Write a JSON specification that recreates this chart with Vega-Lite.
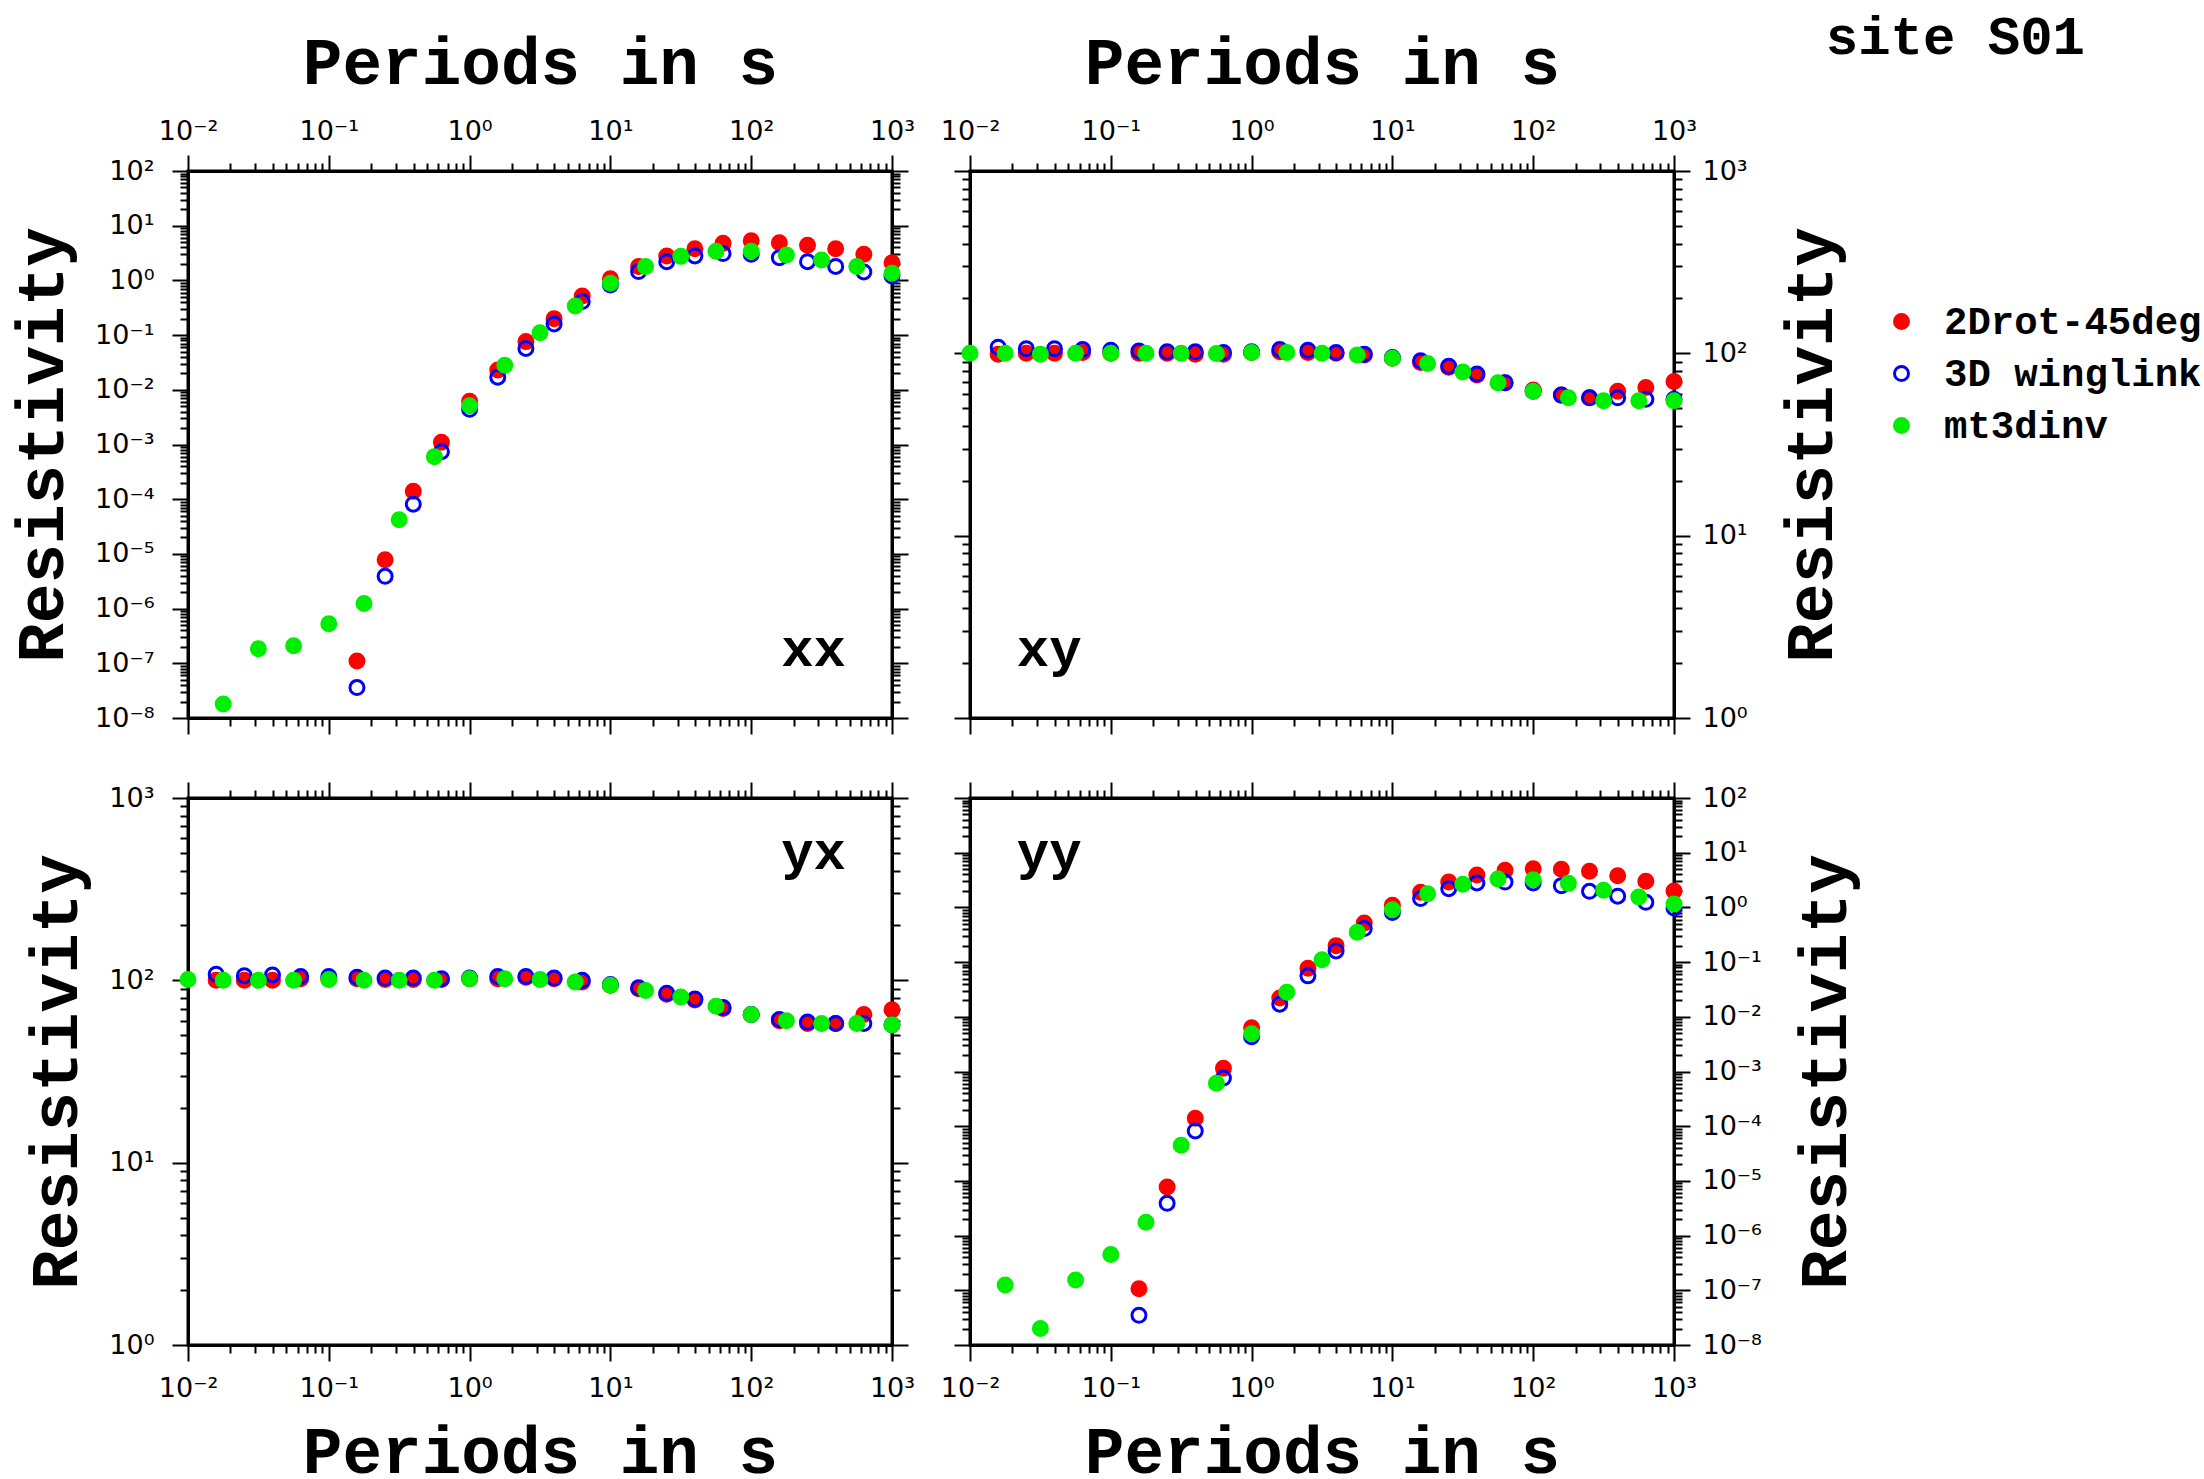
{
  "$schema": "https://vega.github.io/schema/vega-lite/v6.json",
  "padding": {"left": 8, "top": 9, "right": 0, "bottom": 0},
  "background": "white",
  "datasets": {
    "rho": [
      {"panel":"xx","model":"2Drot-45deg","period":0.1585,"rho":1.1e-7},
      {"panel":"xx","model":"2Drot-45deg","period":0.2512,"rho":7.8e-6},
      {"panel":"xx","model":"2Drot-45deg","period":0.3981,"rho":1.4e-4},
      {"panel":"xx","model":"2Drot-45deg","period":0.631,"rho":1.1e-3},
      {"panel":"xx","model":"2Drot-45deg","period":1,"rho":6.2e-3},
      {"panel":"xx","model":"2Drot-45deg","period":1.585,"rho":0.023},
      {"panel":"xx","model":"2Drot-45deg","period":2.512,"rho":0.076},
      {"panel":"xx","model":"2Drot-45deg","period":3.981,"rho":0.2},
      {"panel":"xx","model":"2Drot-45deg","period":6.31,"rho":0.52},
      {"panel":"xx","model":"2Drot-45deg","period":10,"rho":1.07},
      {"panel":"xx","model":"2Drot-45deg","period":15.85,"rho":1.8},
      {"panel":"xx","model":"2Drot-45deg","period":25.12,"rho":2.8},
      {"panel":"xx","model":"2Drot-45deg","period":39.81,"rho":3.8},
      {"panel":"xx","model":"2Drot-45deg","period":63.1,"rho":4.8},
      {"panel":"xx","model":"2Drot-45deg","period":100,"rho":5.3},
      {"panel":"xx","model":"2Drot-45deg","period":158.5,"rho":4.9},
      {"panel":"xx","model":"2Drot-45deg","period":251.2,"rho":4.4},
      {"panel":"xx","model":"2Drot-45deg","period":398.1,"rho":3.8},
      {"panel":"xx","model":"2Drot-45deg","period":631,"rho":3.0},
      {"panel":"xx","model":"2Drot-45deg","period":1000,"rho":2.1},
      {"panel":"xx","model":"3D winglink","period":0.1585,"rho":3.6e-8},
      {"panel":"xx","model":"3D winglink","period":0.2512,"rho":3.9e-6},
      {"panel":"xx","model":"3D winglink","period":0.3981,"rho":8.1e-5},
      {"panel":"xx","model":"3D winglink","period":0.631,"rho":7.4e-4},
      {"panel":"xx","model":"3D winglink","period":1,"rho":4.4e-3},
      {"panel":"xx","model":"3D winglink","period":1.585,"rho":0.017},
      {"panel":"xx","model":"3D winglink","period":2.512,"rho":0.057},
      {"panel":"xx","model":"3D winglink","period":3.981,"rho":0.16},
      {"panel":"xx","model":"3D winglink","period":6.31,"rho":0.41},
      {"panel":"xx","model":"3D winglink","period":10,"rho":0.82},
      {"panel":"xx","model":"3D winglink","period":15.85,"rho":1.45},
      {"panel":"xx","model":"3D winglink","period":25.12,"rho":2.2},
      {"panel":"xx","model":"3D winglink","period":39.81,"rho":2.8},
      {"panel":"xx","model":"3D winglink","period":63.1,"rho":3.1},
      {"panel":"xx","model":"3D winglink","period":100,"rho":3.0},
      {"panel":"xx","model":"3D winglink","period":158.5,"rho":2.6},
      {"panel":"xx","model":"3D winglink","period":251.2,"rho":2.2},
      {"panel":"xx","model":"3D winglink","period":398.1,"rho":1.8},
      {"panel":"xx","model":"3D winglink","period":631,"rho":1.43},
      {"panel":"xx","model":"3D winglink","period":1000,"rho":1.2},
      {"panel":"xx","model":"mt3dinv","period":0.01778,"rho":1.8e-8},
      {"panel":"xx","model":"mt3dinv","period":0.03162,"rho":1.85e-7},
      {"panel":"xx","model":"mt3dinv","period":0.05623,"rho":2.1e-7},
      {"panel":"xx","model":"mt3dinv","period":0.1,"rho":5.3e-7},
      {"panel":"xx","model":"mt3dinv","period":0.1778,"rho":1.24e-6},
      {"panel":"xx","model":"mt3dinv","period":0.3162,"rho":4.2e-5},
      {"panel":"xx","model":"mt3dinv","period":0.5623,"rho":6.0e-4},
      {"panel":"xx","model":"mt3dinv","period":1,"rho":5.1e-3},
      {"panel":"xx","model":"mt3dinv","period":1.778,"rho":0.028},
      {"panel":"xx","model":"mt3dinv","period":3.162,"rho":0.11},
      {"panel":"xx","model":"mt3dinv","period":5.623,"rho":0.34},
      {"panel":"xx","model":"mt3dinv","period":10,"rho":0.89},
      {"panel":"xx","model":"mt3dinv","period":17.78,"rho":1.8},
      {"panel":"xx","model":"mt3dinv","period":31.62,"rho":2.75},
      {"panel":"xx","model":"mt3dinv","period":56.23,"rho":3.4},
      {"panel":"xx","model":"mt3dinv","period":100,"rho":3.4},
      {"panel":"xx","model":"mt3dinv","period":177.8,"rho":2.9},
      {"panel":"xx","model":"mt3dinv","period":316.2,"rho":2.35},
      {"panel":"xx","model":"mt3dinv","period":562.3,"rho":1.8},
      {"panel":"xx","model":"mt3dinv","period":1000,"rho":1.35},

      {"panel":"xy","model":"2Drot-45deg","period":0.01585,"rho":99},
      {"panel":"xy","model":"2Drot-45deg","period":0.02512,"rho":100},
      {"panel":"xy","model":"2Drot-45deg","period":0.03981,"rho":100},
      {"panel":"xy","model":"2Drot-45deg","period":0.0631,"rho":101},
      {"panel":"xy","model":"2Drot-45deg","period":0.1,"rho":100},
      {"panel":"xy","model":"2Drot-45deg","period":0.1585,"rho":100},
      {"panel":"xy","model":"2Drot-45deg","period":0.2512,"rho":100},
      {"panel":"xy","model":"2Drot-45deg","period":0.3981,"rho":99},
      {"panel":"xy","model":"2Drot-45deg","period":0.631,"rho":99},
      {"panel":"xy","model":"2Drot-45deg","period":1,"rho":101},
      {"panel":"xy","model":"2Drot-45deg","period":1.585,"rho":102},
      {"panel":"xy","model":"2Drot-45deg","period":2.512,"rho":101},
      {"panel":"xy","model":"2Drot-45deg","period":3.981,"rho":100},
      {"panel":"xy","model":"2Drot-45deg","period":6.31,"rho":98},
      {"panel":"xy","model":"2Drot-45deg","period":10,"rho":94},
      {"panel":"xy","model":"2Drot-45deg","period":15.85,"rho":89},
      {"panel":"xy","model":"2Drot-45deg","period":25.12,"rho":84},
      {"panel":"xy","model":"2Drot-45deg","period":39.81,"rho":76},
      {"panel":"xy","model":"2Drot-45deg","period":63.1,"rho":69},
      {"panel":"xy","model":"2Drot-45deg","period":100,"rho":63},
      {"panel":"xy","model":"2Drot-45deg","period":158.5,"rho":59},
      {"panel":"xy","model":"2Drot-45deg","period":251.2,"rho":57},
      {"panel":"xy","model":"2Drot-45deg","period":398.1,"rho":62},
      {"panel":"xy","model":"2Drot-45deg","period":631,"rho":65},
      {"panel":"xy","model":"2Drot-45deg","period":1000,"rho":70},
      {"panel":"xy","model":"3D winglink","period":0.01585,"rho":108},
      {"panel":"xy","model":"3D winglink","period":0.02512,"rho":106},
      {"panel":"xy","model":"3D winglink","period":0.03981,"rho":106},
      {"panel":"xy","model":"3D winglink","period":0.0631,"rho":105},
      {"panel":"xy","model":"3D winglink","period":0.1,"rho":104},
      {"panel":"xy","model":"3D winglink","period":0.1585,"rho":103},
      {"panel":"xy","model":"3D winglink","period":0.2512,"rho":102},
      {"panel":"xy","model":"3D winglink","period":0.3981,"rho":102},
      {"panel":"xy","model":"3D winglink","period":0.631,"rho":101},
      {"panel":"xy","model":"3D winglink","period":1,"rho":102},
      {"panel":"xy","model":"3D winglink","period":1.585,"rho":105},
      {"panel":"xy","model":"3D winglink","period":2.512,"rho":104},
      {"panel":"xy","model":"3D winglink","period":3.981,"rho":101},
      {"panel":"xy","model":"3D winglink","period":6.31,"rho":99},
      {"panel":"xy","model":"3D winglink","period":10,"rho":95},
      {"panel":"xy","model":"3D winglink","period":15.85,"rho":91},
      {"panel":"xy","model":"3D winglink","period":25.12,"rho":85},
      {"panel":"xy","model":"3D winglink","period":39.81,"rho":77},
      {"panel":"xy","model":"3D winglink","period":63.1,"rho":69},
      {"panel":"xy","model":"3D winglink","period":100,"rho":62},
      {"panel":"xy","model":"3D winglink","period":158.5,"rho":59},
      {"panel":"xy","model":"3D winglink","period":251.2,"rho":57},
      {"panel":"xy","model":"3D winglink","period":398.1,"rho":57},
      {"panel":"xy","model":"3D winglink","period":631,"rho":56},
      {"panel":"xy","model":"3D winglink","period":1000,"rho":56},
      {"panel":"xy","model":"mt3dinv","period":0.01,"rho":100},
      {"panel":"xy","model":"mt3dinv","period":0.01778,"rho":100},
      {"panel":"xy","model":"mt3dinv","period":0.03162,"rho":99},
      {"panel":"xy","model":"mt3dinv","period":0.05623,"rho":100},
      {"panel":"xy","model":"mt3dinv","period":0.1,"rho":100},
      {"panel":"xy","model":"mt3dinv","period":0.1778,"rho":100},
      {"panel":"xy","model":"mt3dinv","period":0.3162,"rho":100},
      {"panel":"xy","model":"mt3dinv","period":0.5623,"rho":99.7},
      {"panel":"xy","model":"mt3dinv","period":1,"rho":101},
      {"panel":"xy","model":"mt3dinv","period":1.778,"rho":101},
      {"panel":"xy","model":"mt3dinv","period":3.162,"rho":100},
      {"panel":"xy","model":"mt3dinv","period":5.623,"rho":98},
      {"panel":"xy","model":"mt3dinv","period":10,"rho":94},
      {"panel":"xy","model":"mt3dinv","period":17.78,"rho":88},
      {"panel":"xy","model":"mt3dinv","period":31.62,"rho":79},
      {"panel":"xy","model":"mt3dinv","period":56.23,"rho":69},
      {"panel":"xy","model":"mt3dinv","period":100,"rho":62},
      {"panel":"xy","model":"mt3dinv","period":177.8,"rho":57},
      {"panel":"xy","model":"mt3dinv","period":316.2,"rho":55},
      {"panel":"xy","model":"mt3dinv","period":562.3,"rho":55},
      {"panel":"xy","model":"mt3dinv","period":1000,"rho":55},

      {"panel":"yx","model":"2Drot-45deg","period":0.01585,"rho":100},
      {"panel":"yx","model":"2Drot-45deg","period":0.02512,"rho":100},
      {"panel":"yx","model":"2Drot-45deg","period":0.03981,"rho":100},
      {"panel":"yx","model":"2Drot-45deg","period":0.0631,"rho":102},
      {"panel":"yx","model":"2Drot-45deg","period":0.1,"rho":102},
      {"panel":"yx","model":"2Drot-45deg","period":0.1585,"rho":102},
      {"panel":"yx","model":"2Drot-45deg","period":0.2512,"rho":101},
      {"panel":"yx","model":"2Drot-45deg","period":0.3981,"rho":101},
      {"panel":"yx","model":"2Drot-45deg","period":0.631,"rho":101},
      {"panel":"yx","model":"2Drot-45deg","period":1,"rho":102},
      {"panel":"yx","model":"2Drot-45deg","period":1.585,"rho":102},
      {"panel":"yx","model":"2Drot-45deg","period":2.512,"rho":104},
      {"panel":"yx","model":"2Drot-45deg","period":3.981,"rho":102},
      {"panel":"yx","model":"2Drot-45deg","period":6.31,"rho":98},
      {"panel":"yx","model":"2Drot-45deg","period":10,"rho":94},
      {"panel":"yx","model":"2Drot-45deg","period":15.85,"rho":90},
      {"panel":"yx","model":"2Drot-45deg","period":25.12,"rho":84},
      {"panel":"yx","model":"2Drot-45deg","period":39.81,"rho":78},
      {"panel":"yx","model":"2Drot-45deg","period":63.1,"rho":70},
      {"panel":"yx","model":"2Drot-45deg","period":100,"rho":65},
      {"panel":"yx","model":"2Drot-45deg","period":158.5,"rho":60},
      {"panel":"yx","model":"2Drot-45deg","period":251.2,"rho":58},
      {"panel":"yx","model":"2Drot-45deg","period":398.1,"rho":58},
      {"panel":"yx","model":"2Drot-45deg","period":631,"rho":65},
      {"panel":"yx","model":"2Drot-45deg","period":1000,"rho":69},
      {"panel":"yx","model":"3D winglink","period":0.01585,"rho":108},
      {"panel":"yx","model":"3D winglink","period":0.02512,"rho":106},
      {"panel":"yx","model":"3D winglink","period":0.03981,"rho":107},
      {"panel":"yx","model":"3D winglink","period":0.0631,"rho":105},
      {"panel":"yx","model":"3D winglink","period":0.1,"rho":105},
      {"panel":"yx","model":"3D winglink","period":0.1585,"rho":104},
      {"panel":"yx","model":"3D winglink","period":0.2512,"rho":103},
      {"panel":"yx","model":"3D winglink","period":0.3981,"rho":103},
      {"panel":"yx","model":"3D winglink","period":0.631,"rho":102},
      {"panel":"yx","model":"3D winglink","period":1,"rho":103},
      {"panel":"yx","model":"3D winglink","period":1.585,"rho":105},
      {"panel":"yx","model":"3D winglink","period":2.512,"rho":105},
      {"panel":"yx","model":"3D winglink","period":3.981,"rho":103},
      {"panel":"yx","model":"3D winglink","period":6.31,"rho":100},
      {"panel":"yx","model":"3D winglink","period":10,"rho":95},
      {"panel":"yx","model":"3D winglink","period":15.85,"rho":91},
      {"panel":"yx","model":"3D winglink","period":25.12,"rho":85},
      {"panel":"yx","model":"3D winglink","period":39.81,"rho":79},
      {"panel":"yx","model":"3D winglink","period":63.1,"rho":71},
      {"panel":"yx","model":"3D winglink","period":100,"rho":65},
      {"panel":"yx","model":"3D winglink","period":158.5,"rho":61},
      {"panel":"yx","model":"3D winglink","period":251.2,"rho":59},
      {"panel":"yx","model":"3D winglink","period":398.1,"rho":58},
      {"panel":"yx","model":"3D winglink","period":631,"rho":58},
      {"panel":"yx","model":"3D winglink","period":1000,"rho":57},
      {"panel":"yx","model":"mt3dinv","period":0.01,"rho":101},
      {"panel":"yx","model":"mt3dinv","period":0.01778,"rho":100},
      {"panel":"yx","model":"mt3dinv","period":0.03162,"rho":100},
      {"panel":"yx","model":"mt3dinv","period":0.05623,"rho":100},
      {"panel":"yx","model":"mt3dinv","period":0.1,"rho":101},
      {"panel":"yx","model":"mt3dinv","period":0.1778,"rho":100},
      {"panel":"yx","model":"mt3dinv","period":0.3162,"rho":100},
      {"panel":"yx","model":"mt3dinv","period":0.5623,"rho":100},
      {"panel":"yx","model":"mt3dinv","period":1,"rho":102},
      {"panel":"yx","model":"mt3dinv","period":1.778,"rho":102},
      {"panel":"yx","model":"mt3dinv","period":3.162,"rho":101},
      {"panel":"yx","model":"mt3dinv","period":5.623,"rho":98},
      {"panel":"yx","model":"mt3dinv","period":10,"rho":94},
      {"panel":"yx","model":"mt3dinv","period":17.78,"rho":88},
      {"panel":"yx","model":"mt3dinv","period":31.62,"rho":81},
      {"panel":"yx","model":"mt3dinv","period":56.23,"rho":72},
      {"panel":"yx","model":"mt3dinv","period":100,"rho":65},
      {"panel":"yx","model":"mt3dinv","period":177.8,"rho":60},
      {"panel":"yx","model":"mt3dinv","period":316.2,"rho":58},
      {"panel":"yx","model":"mt3dinv","period":562.3,"rho":58},
      {"panel":"yx","model":"mt3dinv","period":1000,"rho":57},

      {"panel":"yy","model":"2Drot-45deg","period":0.1585,"rho":1.07e-7},
      {"panel":"yy","model":"2Drot-45deg","period":0.2512,"rho":7.7e-6},
      {"panel":"yy","model":"2Drot-45deg","period":0.3981,"rho":1.4e-4},
      {"panel":"yy","model":"2Drot-45deg","period":0.631,"rho":1.15e-3},
      {"panel":"yy","model":"2Drot-45deg","period":1,"rho":6.3e-3},
      {"panel":"yy","model":"2Drot-45deg","period":1.585,"rho":0.022},
      {"panel":"yy","model":"2Drot-45deg","period":2.512,"rho":0.077},
      {"panel":"yy","model":"2Drot-45deg","period":3.981,"rho":0.2},
      {"panel":"yy","model":"2Drot-45deg","period":6.31,"rho":0.52},
      {"panel":"yy","model":"2Drot-45deg","period":10,"rho":1.1},
      {"panel":"yy","model":"2Drot-45deg","period":15.85,"rho":1.9},
      {"panel":"yy","model":"2Drot-45deg","period":25.12,"rho":2.9},
      {"panel":"yy","model":"2Drot-45deg","period":39.81,"rho":3.9},
      {"panel":"yy","model":"2Drot-45deg","period":63.1,"rho":4.8},
      {"panel":"yy","model":"2Drot-45deg","period":100,"rho":5.1},
      {"panel":"yy","model":"2Drot-45deg","period":158.5,"rho":5.0},
      {"panel":"yy","model":"2Drot-45deg","period":251.2,"rho":4.6},
      {"panel":"yy","model":"2Drot-45deg","period":398.1,"rho":3.8},
      {"panel":"yy","model":"2Drot-45deg","period":631,"rho":3.0},
      {"panel":"yy","model":"2Drot-45deg","period":1000,"rho":2.0},
      {"panel":"yy","model":"3D winglink","period":0.1585,"rho":3.5e-8},
      {"panel":"yy","model":"3D winglink","period":0.2512,"rho":3.9e-6},
      {"panel":"yy","model":"3D winglink","period":0.3981,"rho":8.2e-5},
      {"panel":"yy","model":"3D winglink","period":0.631,"rho":7.6e-4},
      {"panel":"yy","model":"3D winglink","period":1,"rho":4.3e-3},
      {"panel":"yy","model":"3D winglink","period":1.585,"rho":0.017},
      {"panel":"yy","model":"3D winglink","period":2.512,"rho":0.056},
      {"panel":"yy","model":"3D winglink","period":3.981,"rho":0.16},
      {"panel":"yy","model":"3D winglink","period":6.31,"rho":0.41},
      {"panel":"yy","model":"3D winglink","period":10,"rho":0.81},
      {"panel":"yy","model":"3D winglink","period":15.85,"rho":1.45},
      {"panel":"yy","model":"3D winglink","period":25.12,"rho":2.2},
      {"panel":"yy","model":"3D winglink","period":39.81,"rho":2.8},
      {"panel":"yy","model":"3D winglink","period":63.1,"rho":2.9},
      {"panel":"yy","model":"3D winglink","period":100,"rho":2.8},
      {"panel":"yy","model":"3D winglink","period":158.5,"rho":2.5},
      {"panel":"yy","model":"3D winglink","period":251.2,"rho":1.97},
      {"panel":"yy","model":"3D winglink","period":398.1,"rho":1.6},
      {"panel":"yy","model":"3D winglink","period":631,"rho":1.24},
      {"panel":"yy","model":"3D winglink","period":1000,"rho":0.98},
      {"panel":"yy","model":"mt3dinv","period":0.01778,"rho":1.25e-7},
      {"panel":"yy","model":"mt3dinv","period":0.03162,"rho":2.0e-8},
      {"panel":"yy","model":"mt3dinv","period":0.05623,"rho":1.55e-7},
      {"panel":"yy","model":"mt3dinv","period":0.1,"rho":4.5e-7},
      {"panel":"yy","model":"mt3dinv","period":0.1778,"rho":1.75e-6},
      {"panel":"yy","model":"mt3dinv","period":0.3162,"rho":4.5e-5},
      {"panel":"yy","model":"mt3dinv","period":0.5623,"rho":6.1e-4},
      {"panel":"yy","model":"mt3dinv","period":1,"rho":4.9e-3},
      {"panel":"yy","model":"mt3dinv","period":1.778,"rho":0.028},
      {"panel":"yy","model":"mt3dinv","period":3.162,"rho":0.11},
      {"panel":"yy","model":"mt3dinv","period":5.623,"rho":0.35},
      {"panel":"yy","model":"mt3dinv","period":10,"rho":0.91},
      {"panel":"yy","model":"mt3dinv","period":17.78,"rho":1.78},
      {"panel":"yy","model":"mt3dinv","period":31.62,"rho":2.65},
      {"panel":"yy","model":"mt3dinv","period":56.23,"rho":3.3},
      {"panel":"yy","model":"mt3dinv","period":100,"rho":3.2},
      {"panel":"yy","model":"mt3dinv","period":177.8,"rho":2.75},
      {"panel":"yy","model":"mt3dinv","period":316.2,"rho":2.05},
      {"panel":"yy","model":"mt3dinv","period":562.3,"rho":1.55},
      {"panel":"yy","model":"mt3dinv","period":1000,"rho":1.15}
    ]
  },
  "columns": 2,
  "bounds": "flush",
  "spacing": {"row": 80, "column": 78},
  "concat": [
    {
      "width": 704, "height": 547,
      "layer": [
        {
          "data": {"name": "rho"},
          "transform": [{"filter": "datum.panel === 'xx'"}],
          "mark": {"type": "point", "shape": "circle", "size": 196, "strokeWidth": 3, "opacity": 1},
          "encoding": {
            "x": {"field": "period", "type": "quantitative",
              "scale": {"type": "log", "domain": [0.01, 1000], "nice": false},
              "axis": {"orient": "top", "title": "Periods in s", "labelPadding": 10, "titlePadding": 20,
                "values": [0.01,0.02,0.03,0.04,0.05,0.06,0.07,0.08,0.09,0.1,0.2,0.3,0.4,0.5,0.6,0.7,0.8,0.9,1,2,3,4,5,6,7,8,9,10,20,30,40,50,60,70,80,90,100,200,300,400,500,600,700,800,900,1000],
                "labelExpr": "abs(log(datum.value)/LN10 - round(log(datum.value)/LN10)) < 0.01 ? '10' + (round(log(datum.value)/LN10) < 0 ? '⁻' : '') + ['⁰','¹','²','³','⁴','⁵','⁶','⁷','⁸','⁹'][abs(round(log(datum.value)/LN10))] : ''",
                "tickSize": {"condition": {"test": "abs(log(datum.value)/LN10 - round(log(datum.value)/LN10)) < 0.01", "value": 16}, "value": 8}}},
            "y": {"field": "rho", "type": "quantitative",
              "scale": {"type": "log", "domain": [1e-8, 100], "nice": false},
              "axis": {"orient": "left", "title": "Resistivity", "labelPadding": 18, "titlePadding": 18,
                "values": [1e-8,2e-8,3e-8,4e-8,5e-8,6e-8,7e-8,8e-8,9e-8,1e-7,2e-7,3e-7,4e-7,5e-7,6e-7,7e-7,8e-7,9e-7,1e-6,2e-6,3e-6,4e-6,5e-6,6e-6,7e-6,8e-6,9e-6,1e-5,2e-5,3e-5,4e-5,5e-5,6e-5,7e-5,8e-5,9e-5,1e-4,2e-4,3e-4,4e-4,5e-4,6e-4,7e-4,8e-4,9e-4,1e-3,2e-3,3e-3,4e-3,5e-3,6e-3,7e-3,8e-3,9e-3,0.01,0.02,0.03,0.04,0.05,0.06,0.07,0.08,0.09,0.1,0.2,0.3,0.4,0.5,0.6,0.7,0.8,0.9,1,2,3,4,5,6,7,8,9,10,20,30,40,50,60,70,80,90,100],
                "labelExpr": "abs(log(datum.value)/LN10 - round(log(datum.value)/LN10)) < 0.01 ? '10' + (round(log(datum.value)/LN10) < 0 ? '⁻' : '') + ['⁰','¹','²','³','⁴','⁵','⁶','⁷','⁸','⁹'][abs(round(log(datum.value)/LN10))] : ''",
                "tickSize": {"condition": {"test": "abs(log(datum.value)/LN10 - round(log(datum.value)/LN10)) < 0.01", "value": 16}, "value": 8}}},
            "fill": {"field": "model", "type": "nominal",
              "scale": {"domain": ["2Drot-45deg", "3D winglink", "mt3dinv"], "range": ["#ff0000", "transparent", "#00ee00"]},
              "legend": {"title": null, "orient": "none", "legendX": 1694, "legendY": 131}},
            "stroke": {"field": "model", "type": "nominal",
              "scale": {"domain": ["2Drot-45deg", "3D winglink", "mt3dinv"], "range": ["#ff0000", "#0000ff", "#00ee00"]},
              "legend": {"title": null, "orient": "none", "legendX": 1694, "legendY": 131}}
          }
        },
        {
          "data": {"values": [{}]},
          "mark": {"type": "text", "text": "xx", "align": "right", "baseline": "alphabetic", "font": "Liberation Mono", "fontSize": 54, "fontWeight": "bold", "color": "black"},
          "encoding": {
            "x": {"datum": 471, "type": "quantitative", "scale": {"type": "log", "domain": [0.01, 1000], "nice": false},
              "axis": {"orient": "bottom", "title": null, "labels": false,
                "values": [0.01,0.02,0.03,0.04,0.05,0.06,0.07,0.08,0.09,0.1,0.2,0.3,0.4,0.5,0.6,0.7,0.8,0.9,1,2,3,4,5,6,7,8,9,10,20,30,40,50,60,70,80,90,100,200,300,400,500,600,700,800,900,1000],
                "tickSize": {"condition": {"test": "abs(log(datum.value)/LN10 - round(log(datum.value)/LN10)) < 0.01", "value": 16}, "value": 8}}},
            "y": {"datum": 8.9e-8, "type": "quantitative", "scale": {"type": "log", "domain": [1e-8, 100], "nice": false},
              "axis": {"orient": "right", "title": null, "labels": false,
                "values": [1e-8,2e-8,3e-8,4e-8,5e-8,6e-8,7e-8,8e-8,9e-8,1e-7,2e-7,3e-7,4e-7,5e-7,6e-7,7e-7,8e-7,9e-7,1e-6,2e-6,3e-6,4e-6,5e-6,6e-6,7e-6,8e-6,9e-6,1e-5,2e-5,3e-5,4e-5,5e-5,6e-5,7e-5,8e-5,9e-5,1e-4,2e-4,3e-4,4e-4,5e-4,6e-4,7e-4,8e-4,9e-4,1e-3,2e-3,3e-3,4e-3,5e-3,6e-3,7e-3,8e-3,9e-3,0.01,0.02,0.03,0.04,0.05,0.06,0.07,0.08,0.09,0.1,0.2,0.3,0.4,0.5,0.6,0.7,0.8,0.9,1,2,3,4,5,6,7,8,9,10,20,30,40,50,60,70,80,90,100],
                "tickSize": {"condition": {"test": "abs(log(datum.value)/LN10 - round(log(datum.value)/LN10)) < 0.01", "value": 16}, "value": 8}}}
          }
        }
      ],
      "resolve": {"axis": {"x": "independent", "y": "independent"}}
    },
    {
      "width": 704, "height": 547,
      "title": {"text": "site S01", "anchor": "end", "frame": "group", "dx": 411, "offset": -35, "font": "Liberation Mono", "fontSize": 54, "fontWeight": "bold", "color": "black"},
      "layer": [
        {
          "data": {"name": "rho"},
          "transform": [{"filter": "datum.panel === 'xy'"}],
          "mark": {"type": "point", "shape": "circle", "size": 196, "strokeWidth": 3, "opacity": 1},
          "encoding": {
            "x": {"field": "period", "type": "quantitative",
              "scale": {"type": "log", "domain": [0.01, 1000], "nice": false},
              "axis": {"orient": "top", "title": "Periods in s", "labelPadding": 10, "titlePadding": 20,
                "values": [0.01,0.02,0.03,0.04,0.05,0.06,0.07,0.08,0.09,0.1,0.2,0.3,0.4,0.5,0.6,0.7,0.8,0.9,1,2,3,4,5,6,7,8,9,10,20,30,40,50,60,70,80,90,100,200,300,400,500,600,700,800,900,1000],
                "labelExpr": "abs(log(datum.value)/LN10 - round(log(datum.value)/LN10)) < 0.01 ? '10' + (round(log(datum.value)/LN10) < 0 ? '⁻' : '') + ['⁰','¹','²','³','⁴','⁵','⁶','⁷','⁸','⁹'][abs(round(log(datum.value)/LN10))] : ''",
                "tickSize": {"condition": {"test": "abs(log(datum.value)/LN10 - round(log(datum.value)/LN10)) < 0.01", "value": 16}, "value": 8}}},
            "y": {"field": "rho", "type": "quantitative",
              "scale": {"type": "log", "domain": [1, 1000], "nice": false},
              "axis": {"orient": "right", "title": "Resistivity", "titleAngle": 270, "titleBaseline": "top", "labelPadding": 12, "titlePadding": 32,
                "values": [1,2,3,4,5,6,7,8,9,10,20,30,40,50,60,70,80,90,100,200,300,400,500,600,700,800,900,1000],
                "labelExpr": "abs(log(datum.value)/LN10 - round(log(datum.value)/LN10)) < 0.01 ? '10' + (round(log(datum.value)/LN10) < 0 ? '⁻' : '') + ['⁰','¹','²','³','⁴','⁵','⁶','⁷','⁸','⁹'][abs(round(log(datum.value)/LN10))] : ''",
                "tickSize": {"condition": {"test": "abs(log(datum.value)/LN10 - round(log(datum.value)/LN10)) < 0.01", "value": 16}, "value": 8}}},
            "fill": {"field": "model", "type": "nominal",
              "scale": {"domain": ["2Drot-45deg", "3D winglink", "mt3dinv"], "range": ["#ff0000", "transparent", "#00ee00"]},
              "legend": {"title": null, "orient": "none", "legendX": 1694, "legendY": 131}},
            "stroke": {"field": "model", "type": "nominal",
              "scale": {"domain": ["2Drot-45deg", "3D winglink", "mt3dinv"], "range": ["#ff0000", "#0000ff", "#00ee00"]},
              "legend": {"title": null, "orient": "none", "legendX": 1694, "legendY": 131}}
          }
        },
        {
          "data": {"values": [{}]},
          "mark": {"type": "text", "text": "xy", "align": "left", "baseline": "alphabetic", "font": "Liberation Mono", "fontSize": 54, "fontWeight": "bold", "color": "black"},
          "encoding": {
            "x": {"datum": 0.0215, "type": "quantitative", "scale": {"type": "log", "domain": [0.01, 1000], "nice": false},
              "axis": {"orient": "bottom", "title": null, "labels": false,
                "values": [0.01,0.02,0.03,0.04,0.05,0.06,0.07,0.08,0.09,0.1,0.2,0.3,0.4,0.5,0.6,0.7,0.8,0.9,1,2,3,4,5,6,7,8,9,10,20,30,40,50,60,70,80,90,100,200,300,400,500,600,700,800,900,1000],
                "tickSize": {"condition": {"test": "abs(log(datum.value)/LN10 - round(log(datum.value)/LN10)) < 0.01", "value": 16}, "value": 8}}},
            "y": {"datum": 1.93, "type": "quantitative", "scale": {"type": "log", "domain": [1, 1000], "nice": false},
              "axis": {"orient": "left", "title": null, "labels": false,
                "values": [1,2,3,4,5,6,7,8,9,10,20,30,40,50,60,70,80,90,100,200,300,400,500,600,700,800,900,1000],
                "tickSize": {"condition": {"test": "abs(log(datum.value)/LN10 - round(log(datum.value)/LN10)) < 0.01", "value": 16}, "value": 8}}}
          }
        }
      ],
      "resolve": {"axis": {"x": "independent", "y": "independent"}}
    },
    {
      "width": 704, "height": 547,
      "layer": [
        {
          "data": {"name": "rho"},
          "transform": [{"filter": "datum.panel === 'yx'"}],
          "mark": {"type": "point", "shape": "circle", "size": 196, "strokeWidth": 3, "opacity": 1},
          "encoding": {
            "x": {"field": "period", "type": "quantitative",
              "scale": {"type": "log", "domain": [0.01, 1000], "nice": false},
              "axis": {"orient": "bottom", "title": "Periods in s", "labelPadding": 14, "titlePadding": 19,
                "values": [0.01,0.02,0.03,0.04,0.05,0.06,0.07,0.08,0.09,0.1,0.2,0.3,0.4,0.5,0.6,0.7,0.8,0.9,1,2,3,4,5,6,7,8,9,10,20,30,40,50,60,70,80,90,100,200,300,400,500,600,700,800,900,1000],
                "labelExpr": "abs(log(datum.value)/LN10 - round(log(datum.value)/LN10)) < 0.01 ? '10' + (round(log(datum.value)/LN10) < 0 ? '⁻' : '') + ['⁰','¹','²','³','⁴','⁵','⁶','⁷','⁸','⁹'][abs(round(log(datum.value)/LN10))] : ''",
                "tickSize": {"condition": {"test": "abs(log(datum.value)/LN10 - round(log(datum.value)/LN10)) < 0.01", "value": 16}, "value": 8}}},
            "y": {"field": "rho", "type": "quantitative",
              "scale": {"type": "log", "domain": [1, 1000], "nice": false},
              "axis": {"orient": "left", "title": "Resistivity", "labelPadding": 18, "titlePadding": 18,
                "values": [1,2,3,4,5,6,7,8,9,10,20,30,40,50,60,70,80,90,100,200,300,400,500,600,700,800,900,1000],
                "labelExpr": "abs(log(datum.value)/LN10 - round(log(datum.value)/LN10)) < 0.01 ? '10' + (round(log(datum.value)/LN10) < 0 ? '⁻' : '') + ['⁰','¹','²','³','⁴','⁵','⁶','⁷','⁸','⁹'][abs(round(log(datum.value)/LN10))] : ''",
                "tickSize": {"condition": {"test": "abs(log(datum.value)/LN10 - round(log(datum.value)/LN10)) < 0.01", "value": 16}, "value": 8}}},
            "fill": {"field": "model", "type": "nominal",
              "scale": {"domain": ["2Drot-45deg", "3D winglink", "mt3dinv"], "range": ["#ff0000", "transparent", "#00ee00"]},
              "legend": {"title": null, "orient": "none", "legendX": 1694, "legendY": 131}},
            "stroke": {"field": "model", "type": "nominal",
              "scale": {"domain": ["2Drot-45deg", "3D winglink", "mt3dinv"], "range": ["#ff0000", "#0000ff", "#00ee00"]},
              "legend": {"title": null, "orient": "none", "legendX": 1694, "legendY": 131}}
          }
        },
        {
          "data": {"values": [{}]},
          "mark": {"type": "text", "text": "yx", "align": "right", "baseline": "alphabetic", "font": "Liberation Mono", "fontSize": 54, "fontWeight": "bold", "color": "black"},
          "encoding": {
            "x": {"datum": 471, "type": "quantitative", "scale": {"type": "log", "domain": [0.01, 1000], "nice": false},
              "axis": {"orient": "top", "title": null, "labels": false,
                "values": [0.01,0.02,0.03,0.04,0.05,0.06,0.07,0.08,0.09,0.1,0.2,0.3,0.4,0.5,0.6,0.7,0.8,0.9,1,2,3,4,5,6,7,8,9,10,20,30,40,50,60,70,80,90,100,200,300,400,500,600,700,800,900,1000],
                "tickSize": {"condition": {"test": "abs(log(datum.value)/LN10 - round(log(datum.value)/LN10)) < 0.01", "value": 16}, "value": 8}}},
            "y": {"datum": 407, "type": "quantitative", "scale": {"type": "log", "domain": [1, 1000], "nice": false},
              "axis": {"orient": "right", "title": null, "labels": false,
                "values": [1,2,3,4,5,6,7,8,9,10,20,30,40,50,60,70,80,90,100,200,300,400,500,600,700,800,900,1000],
                "tickSize": {"condition": {"test": "abs(log(datum.value)/LN10 - round(log(datum.value)/LN10)) < 0.01", "value": 16}, "value": 8}}}
          }
        }
      ],
      "resolve": {"axis": {"x": "independent", "y": "independent"}}
    },
    {
      "width": 704, "height": 547,
      "layer": [
        {
          "data": {"name": "rho"},
          "transform": [{"filter": "datum.panel === 'yy'"}],
          "mark": {"type": "point", "shape": "circle", "size": 196, "strokeWidth": 3, "opacity": 1},
          "encoding": {
            "x": {"field": "period", "type": "quantitative",
              "scale": {"type": "log", "domain": [0.01, 1000], "nice": false},
              "axis": {"orient": "bottom", "title": "Periods in s", "labelPadding": 14, "titlePadding": 19,
                "values": [0.01,0.02,0.03,0.04,0.05,0.06,0.07,0.08,0.09,0.1,0.2,0.3,0.4,0.5,0.6,0.7,0.8,0.9,1,2,3,4,5,6,7,8,9,10,20,30,40,50,60,70,80,90,100,200,300,400,500,600,700,800,900,1000],
                "labelExpr": "abs(log(datum.value)/LN10 - round(log(datum.value)/LN10)) < 0.01 ? '10' + (round(log(datum.value)/LN10) < 0 ? '⁻' : '') + ['⁰','¹','²','³','⁴','⁵','⁶','⁷','⁸','⁹'][abs(round(log(datum.value)/LN10))] : ''",
                "tickSize": {"condition": {"test": "abs(log(datum.value)/LN10 - round(log(datum.value)/LN10)) < 0.01", "value": 16}, "value": 8}}},
            "y": {"field": "rho", "type": "quantitative",
              "scale": {"type": "log", "domain": [1e-8, 100], "nice": false},
              "axis": {"orient": "right", "title": "Resistivity", "titleAngle": 270, "titleBaseline": "top", "labelPadding": 12, "titlePadding": 32,
                "values": [1e-8,2e-8,3e-8,4e-8,5e-8,6e-8,7e-8,8e-8,9e-8,1e-7,2e-7,3e-7,4e-7,5e-7,6e-7,7e-7,8e-7,9e-7,1e-6,2e-6,3e-6,4e-6,5e-6,6e-6,7e-6,8e-6,9e-6,1e-5,2e-5,3e-5,4e-5,5e-5,6e-5,7e-5,8e-5,9e-5,1e-4,2e-4,3e-4,4e-4,5e-4,6e-4,7e-4,8e-4,9e-4,1e-3,2e-3,3e-3,4e-3,5e-3,6e-3,7e-3,8e-3,9e-3,0.01,0.02,0.03,0.04,0.05,0.06,0.07,0.08,0.09,0.1,0.2,0.3,0.4,0.5,0.6,0.7,0.8,0.9,1,2,3,4,5,6,7,8,9,10,20,30,40,50,60,70,80,90,100],
                "labelExpr": "abs(log(datum.value)/LN10 - round(log(datum.value)/LN10)) < 0.01 ? '10' + (round(log(datum.value)/LN10) < 0 ? '⁻' : '') + ['⁰','¹','²','³','⁴','⁵','⁶','⁷','⁸','⁹'][abs(round(log(datum.value)/LN10))] : ''",
                "tickSize": {"condition": {"test": "abs(log(datum.value)/LN10 - round(log(datum.value)/LN10)) < 0.01", "value": 16}, "value": 8}}},
            "fill": {"field": "model", "type": "nominal",
              "scale": {"domain": ["2Drot-45deg", "3D winglink", "mt3dinv"], "range": ["#ff0000", "transparent", "#00ee00"]},
              "legend": {"title": null, "orient": "none", "legendX": 1694, "legendY": 131}},
            "stroke": {"field": "model", "type": "nominal",
              "scale": {"domain": ["2Drot-45deg", "3D winglink", "mt3dinv"], "range": ["#ff0000", "#0000ff", "#00ee00"]},
              "legend": {"title": null, "orient": "none", "legendX": 1694, "legendY": 131}}
          }
        },
        {
          "data": {"values": [{}]},
          "mark": {"type": "text", "text": "yy", "align": "left", "baseline": "alphabetic", "font": "Liberation Mono", "fontSize": 54, "fontWeight": "bold", "color": "black"},
          "encoding": {
            "x": {"datum": 0.0215, "type": "quantitative", "scale": {"type": "log", "domain": [0.01, 1000], "nice": false},
              "axis": {"orient": "top", "title": null, "labels": false,
                "values": [0.01,0.02,0.03,0.04,0.05,0.06,0.07,0.08,0.09,0.1,0.2,0.3,0.4,0.5,0.6,0.7,0.8,0.9,1,2,3,4,5,6,7,8,9,10,20,30,40,50,60,70,80,90,100,200,300,400,500,600,700,800,900,1000],
                "tickSize": {"condition": {"test": "abs(log(datum.value)/LN10 - round(log(datum.value)/LN10)) < 0.01", "value": 16}, "value": 8}}},
            "y": {"datum": 5.0, "type": "quantitative", "scale": {"type": "log", "domain": [1e-8, 100], "nice": false},
              "axis": {"orient": "left", "title": null, "labels": false,
                "values": [1e-8,2e-8,3e-8,4e-8,5e-8,6e-8,7e-8,8e-8,9e-8,1e-7,2e-7,3e-7,4e-7,5e-7,6e-7,7e-7,8e-7,9e-7,1e-6,2e-6,3e-6,4e-6,5e-6,6e-6,7e-6,8e-6,9e-6,1e-5,2e-5,3e-5,4e-5,5e-5,6e-5,7e-5,8e-5,9e-5,1e-4,2e-4,3e-4,4e-4,5e-4,6e-4,7e-4,8e-4,9e-4,1e-3,2e-3,3e-3,4e-3,5e-3,6e-3,7e-3,8e-3,9e-3,0.01,0.02,0.03,0.04,0.05,0.06,0.07,0.08,0.09,0.1,0.2,0.3,0.4,0.5,0.6,0.7,0.8,0.9,1,2,3,4,5,6,7,8,9,10,20,30,40,50,60,70,80,90,100],
                "tickSize": {"condition": {"test": "abs(log(datum.value)/LN10 - round(log(datum.value)/LN10)) < 0.01", "value": 16}, "value": 8}}}
          }
        }
      ],
      "resolve": {"axis": {"x": "independent", "y": "independent"}}
    }
  ],
  "config": {
    "view": {"stroke": "black", "strokeWidth": 3},
    "axis": {
      "grid": false, "domain": true, "domainColor": "black", "domainWidth": 3,
      "tickColor": "black", "tickWidth": 2,
      "labelFont": "DejaVu Sans", "labelFontSize": 27, "labelColor": "black",
      "labelFlush": false, "labelOverlap": false, "labelBound": false,
      "titleFont": "Liberation Mono", "titleFontSize": 66, "titleFontWeight": "bold", "titleColor": "black"
    },
    "legend": {
      "labelFont": "Liberation Mono", "labelFontSize": 39, "labelFontWeight": "bold", "labelColor": "black",
      "symbolSize": 196, "symbolStrokeWidth": 3, "symbolType": "circle",
      "labelOffset": 23, "rowPadding": 12, "padding": 0, "labelLimit": 400
    }
  }
}
